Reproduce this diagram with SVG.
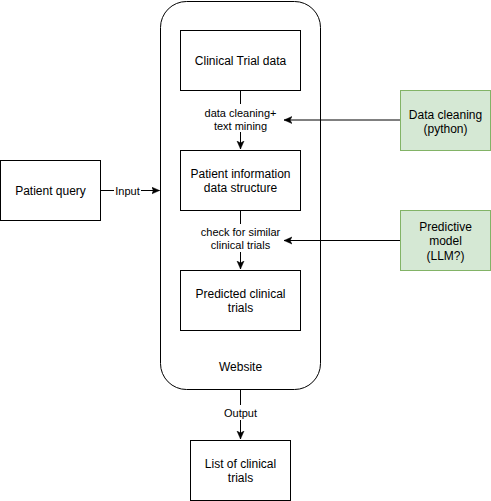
<svg xmlns="http://www.w3.org/2000/svg" width="491" height="501" viewBox="0 0 491 501">
<style>
.box{fill:#fff;stroke:#000;stroke-width:1}
.green{fill:#d5e8d4;stroke:#82b366;stroke-width:1}
.t{font-family:"Liberation Sans",Arial,sans-serif;font-size:12px;fill:#000;text-anchor:middle}
.l{font-family:"Liberation Sans",Arial,sans-serif;font-size:11px;fill:#000;text-anchor:middle}
.e{fill:none;stroke:#000;stroke-width:1}
.lbg{fill:#fff;stroke:none}
</style>
<defs>
<marker id="arr" markerWidth="10" markerHeight="10" refX="8" refY="4" orient="auto" markerUnits="userSpaceOnUse">
<path d="M0,0.5 L8,4 L0,7.5 L2,4 Z" fill="#000" stroke="#000" stroke-width="0.5"/>
</marker>
</defs>
<g id="website">
<rect class="box" x="160.5" y="1.5" width="160" height="388" rx="26" ry="26"/>
<text class="t" x="240.5" y="370.5">Website</text>
</g>
<g id="connectors">
<path class="e" d="M240.5,90.5 V149" marker-end="url(#arr)"/>
<rect class="lbg" x="201" y="104" width="79" height="28"/>
<text class="l" x="240.5" y="117">data cleaning+</text>
<text class="l" x="240.5" y="129.5">text mining</text>
<path class="e" d="M240.5,210.5 V269" marker-end="url(#arr)"/>
<rect class="lbg" x="196" y="224" width="89" height="28"/>
<text class="l" x="240.5" y="236">check for similar</text>
<text class="l" x="240.5" y="249">clinical trials</text>
<path class="e" d="M400,120 H284" marker-end="url(#arr)"/>
<path class="e" d="M400,240.5 H284" marker-end="url(#arr)"/>
<path class="e" d="M100.5,190.5 H159.5" marker-end="url(#arr)"/>
<rect class="lbg" x="114" y="183" width="27" height="14"/>
<text class="l" x="127.5" y="194.5">Input</text>
<path class="e" d="M240.5,389.5 V439" marker-end="url(#arr)"/>
<rect class="lbg" x="222" y="405" width="37" height="15"/>
<text class="l" x="240.5" y="416.5">Output</text>
</g>
<g id="clinical-trial-data">
<rect class="box" x="180.5" y="30.5" width="120" height="60"/>
<text class="t" x="240.5" y="64.5">Clinical Trial data</text>
</g>
<g id="patient-info">
<rect class="box" x="180.5" y="150.5" width="120" height="60"/>
<text class="t" x="240.5" y="177.5">Patient information</text>
<text class="t" x="240.5" y="192">data structure</text>
</g>
<g id="predicted">
<rect class="box" x="180.5" y="270.5" width="120" height="60"/>
<text class="t" x="240.5" y="297.5">Predicted clinical</text>
<text class="t" x="240.5" y="312">trials</text>
</g>
<g id="list">
<rect class="box" x="190.5" y="440.5" width="100" height="60"/>
<text class="t" x="240.5" y="467.5">List of clinical</text>
<text class="t" x="240.5" y="482">trials</text>
</g>
<g id="patient-query">
<rect class="box" x="0.5" y="160.5" width="100" height="60"/>
<text class="t" x="50.5" y="194.5">Patient query</text>
</g>
<g id="data-cleaning">
<rect class="green" x="400.5" y="90.5" width="90" height="60"/>
<text class="t" x="445.5" y="118.5">Data cleaning</text>
<text class="t" x="445.5" y="132.5">(python)</text>
</g>
<g id="predictive-model">
<rect class="green" x="400.5" y="210.5" width="90" height="60"/>
<text class="t" x="445.5" y="231">Predictive</text>
<text class="t" x="445.5" y="245">model</text>
<text class="t" x="445.5" y="259.5">(LLM?)</text>
</g>
</svg>
